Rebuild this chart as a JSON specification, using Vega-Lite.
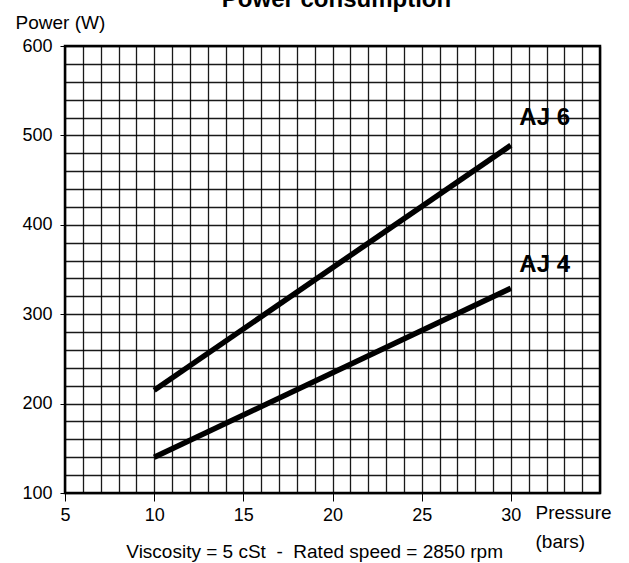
{
  "$schema": "https://vega.github.io/schema/vega-lite/v6.json",
  "width": 535,
  "height": 447,
  "autosize": {"type": "none"},
  "padding": {"left": 65, "top": 46, "right": 29, "bottom": 70},
  "background": "white",
  "config": {
    "font": "Liberation Sans",
    "view": {"stroke": "black", "strokeWidth": 2.5},
    "axis": {"labelColor": "black", "titleColor": "black", "tickColor": "black", "domainColor": "black"}
  },
  "title": {
    "text": "Power consumption",
    "fontSize": 24,
    "fontWeight": "bold",
    "anchor": "middle",
    "baseline": "alphabetic",
    "offset": -18,
    "dx": 4,
    "color": "black"
  },
  "resolve": {"axis": {"x": "independent", "y": "independent"}},
  "layer": [
    {
      "data": {
        "values": [
          {"series": "AJ 6", "pressure": 10, "power": 215},
          {"series": "AJ 6", "pressure": 30, "power": 489},
          {"series": "AJ 4", "pressure": 10, "power": 140},
          {"series": "AJ 4", "pressure": 30, "power": 329}
        ]
      },
      "mark": {"type": "line", "strokeWidth": 5.5, "color": "black", "strokeCap": "butt"},
      "encoding": {
        "x": {
          "field": "pressure", "type": "quantitative",
          "scale": {"domain": [5, 35], "nice": false, "zero": false},
          "axis": {
            "orient": "top",
            "values": [5,6,7,8,9,10,11,12,13,14,15,16,17,18,19,20,21,22,23,24,25,26,27,28,29,30,31,32,33,34,35],
            "grid": true, "gridColor": "black", "gridWidth": 1.3, "gridOpacity": 0.9,
            "labels": false, "ticks": false, "domain": false, "title": null
          }
        },
        "y": {
          "field": "power", "type": "quantitative",
          "scale": {"domain": [100, 600], "nice": false, "zero": false},
          "axis": {
            "orient": "right",
            "values": [100,120,140,160,180,200,220,240,260,280,300,320,340,360,380,400,420,440,460,480,500,520,540,560,580,600],
            "grid": true, "gridColor": "black", "gridWidth": 1.3, "gridOpacity": 0.9,
            "labels": false, "ticks": false, "domain": false, "title": null
          }
        },
        "detail": {"field": "series"}
      }
    },
    {
      "data": {
        "values": [
          {"label": "AJ 6", "pressure": 31.9, "power": 519},
          {"label": "AJ 4", "pressure": 31.9, "power": 355}
        ]
      },
      "mark": {"type": "text", "fontSize": 24, "fontWeight": "bold", "color": "black", "align": "center", "baseline": "middle"},
      "encoding": {
        "x": {
          "field": "pressure", "type": "quantitative",
          "axis": {
            "orient": "bottom",
            "values": [5, 10, 15, 20, 25, 30],
            "grid": false, "domain": false, "ticks": true, "tickSize": 8, "tickWidth": 1,
            "labelFontSize": 18, "labelPadding": 5, "labelFlush": false,
            "title": ["Pressure", "(bars)"],
            "titleFontSize": 19, "titleFontWeight": "normal",
            "titleAngle": 0, "titleAlign": "left", "titleBaseline": "alphabetic",
            "titleX": 470, "titleY": 25, "titleLineHeight": 29
          }
        },
        "y": {
          "field": "power", "type": "quantitative",
          "axis": {
            "orient": "left",
            "values": [100, 200, 300, 400, 500, 600],
            "grid": false, "domain": false, "ticks": true, "tickSize": 5, "tickWidth": 1,
            "labelFontSize": 18, "labelPadding": 8, "labelFlush": false,
            "title": "Power (W)",
            "titleFontSize": 19, "titleFontWeight": "normal",
            "titleAngle": 0, "titleAlign": "left", "titleBaseline": "alphabetic",
            "titleX": -50, "titleY": -18
          }
        },
        "text": {"field": "label"}
      }
    },
    {
      "data": {"values": [{"note": "Viscosity = 5 cSt \u00a0-\u00a0 Rated speed = 2850 rpm", "pressure": 19.0, "power": 34}]},
      "mark": {"type": "text", "fontSize": 19, "color": "black", "align": "center", "baseline": "middle", "clip": false},
      "encoding": {
        "x": {"field": "pressure", "type": "quantitative", "axis": null},
        "y": {"field": "power", "type": "quantitative", "axis": null},
        "text": {"field": "note"}
      }
    }
  ]
}
